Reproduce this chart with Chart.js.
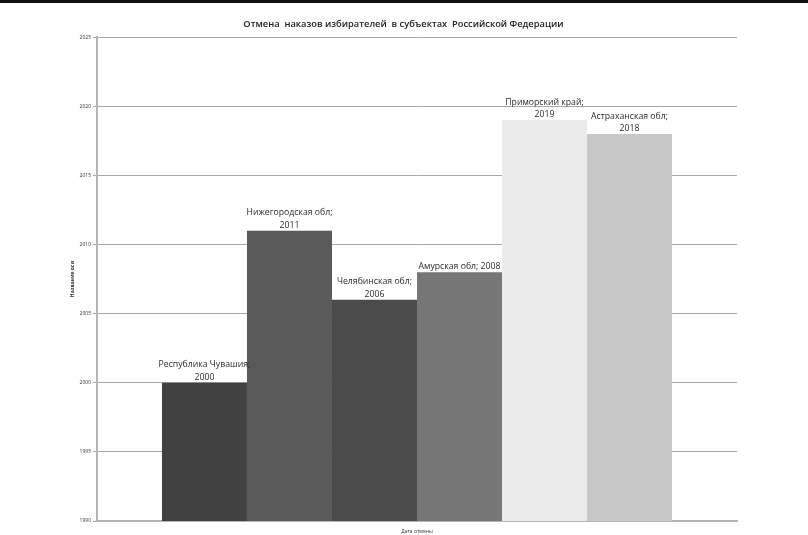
<!DOCTYPE html>
<html>
<head>
<meta charset="utf-8">
<script src="https://cdn.jsdelivr.net/npm/chart.js@4.4.1/dist/chart.umd.min.js"></script>
<style>
  html, body { margin: 0; padding: 0; background: #fff; }
  #wrap { width: 808px; height: 535px; position: relative; }
</style>
</head>
<body>
<div id="wrap"><canvas id="chart"></canvas></div>
<script>
// regions and year of recall
const regions = [
    ["Республика Чувашия;", "2000"],
    ["Нижегородская обл;", "2011"],
    ["Челябинская обл;", "2006"],
    ["Амурская обл; 2008"],
    ["Приморский край;", "2019"],
    ["Астраханская обл;", "2018"],
];
const years = [2000, 2011, 2006, 2008, 2019, 2018];
const barColors = ["#414141", "#5a5a5a", "#4b4b4b", "#767676", "#ebebeb", "#c7c7c7"];
const yTicks = [1990, 1995, 2000, 2005, 2010, 2015, 2020, 2025];

const datasets = years.map((y, i) => ({
    label: regions[i].join(" "),
    data: [y],
    backgroundColor: barColors[i],
    borderWidth: 0,
    barPercentage: 1,
    categoryPercentage: 0.797,
}));

// draws "name; value" above each bar, and the dark strip at the top
const extras = {
    id: "extras",
    beforeDraw(chart) {
        const c = chart.ctx;
        c.save();
        c.fillStyle = "#fff";
        c.fillRect(0, 0, chart.width, chart.height);
        c.fillStyle = "#111";
        c.fillRect(0, 0, chart.width, 3);
        c.restore();
    },
    afterDatasetsDraw(chart) {
        const c = chart.ctx;
        c.save();
        c.font = "8.7px 'Open Sans'";
        c.fillStyle = "#2a2a2a";
        c.textAlign = "center";
        c.textBaseline = "bottom";
        chart.data.datasets.forEach((ds, i) => {
            const bar = chart.getDatasetMeta(i).data[0];
            const lines = regions[i];
            lines.forEach((t, k) => {
                const y = bar.y - 1 - (lines.length - 1 - k) * 12.5;
                c.fillText(t, bar.x, y);
            });
        });
        c.restore();
    },
};

new Chart(document.getElementById("chart"), {
    type: "bar",
    data: { labels: [""], datasets: datasets },
    options: {
        responsive: true,
        maintainAspectRatio: false,
        animation: false,
        layout: { padding: { left: 70, right: 71, top: 0, bottom: 0 } },
        plugins: {
            legend: { display: false },
            tooltip: { enabled: false },
            title: {
                display: true,
                text: "Отмена  наказов избирателей  в субъектах  Российской Федерации",
                color: "#222",
                font: { family: "'Open Sans'", size: 9.3, weight: "600" },
                padding: { top: 19, bottom: 7 },
            },
        },
        scales: {
            x: {
                grid: { display: false },
                border: { color: "#b5b5b5", width: 2 },
                ticks: { display: false },
                title: {
                    display: true,
                    text: "Дата отмены",
                    color: "#333",
                    font: { family: "'Open Sans'", size: 5 },
                    padding: { top: 2, bottom: 0 },
                },
                afterFit(scale) { scale.height = 14; },
            },
            y: {
                min: 1990,
                max: 2025,
                afterBuildTicks(scale) { scale.ticks = yTicks.map(v => ({ value: v })); },
                grid: { color: "#a8a8a8", lineWidth: 1, tickLength: 4 },
                border: { color: "#b5b5b5", width: 2 },
                ticks: {
                    color: "#333",
                    font: { family: "'Open Sans'", size: 5 },
                    padding: 2,
                    callback: (v) => String(v),
                },
                title: {
                    display: true,
                    text: "Название оси",
                    color: "#333",
                    font: { family: "'Open Sans'", size: 5, weight: "bold" },
                    padding: { top: 0, bottom: 4 },
                },
                afterFit(scale) { scale.width = 27; },
            },
        },
    },
    plugins: [extras],
});
</script>
</body>
</html>
